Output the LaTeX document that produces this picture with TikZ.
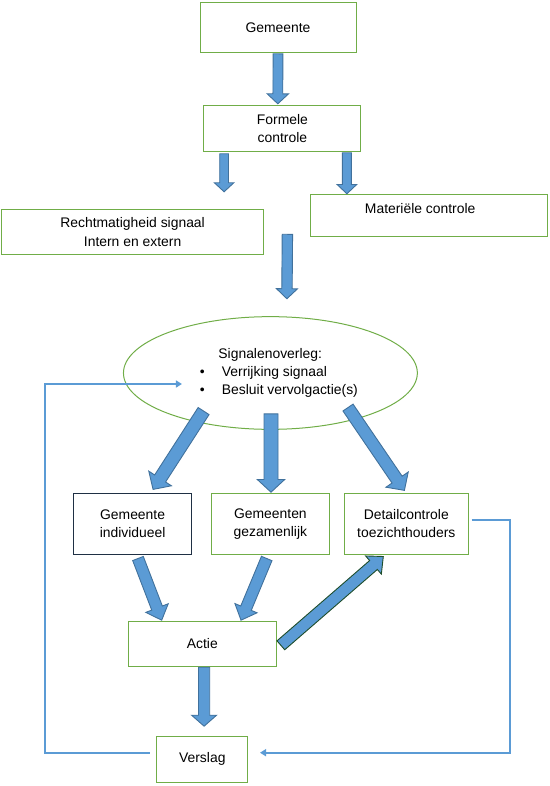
\documentclass[tikz,border=0pt]{standalone}
\usepackage{fontspec}
\setmainfont{Liberation Sans}
\usetikzlibrary{arrows.meta, shapes, positioning, calc}

\definecolor{boxgreen}{HTML}{70AD47}
\definecolor{arrowblue}{HTML}{5B9BD5}
\definecolor{arrowedge}{HTML}{41719C}
\definecolor{navyedge}{HTML}{1F3044}
\definecolor{greenedge}{HTML}{1E4D2B}

\tikzset{
	shaftw/.store in=\shaftw, tipw/.store in=\tipw, tipl/.store in=\tipl,
	shaftw=5pt, tipw=10.5pt, tipl=10pt,
	box/.style={draw=boxgreen, line width=1pt, inner sep=0pt, align=center, minimum height=#1},
	blockarrow/.style={draw=arrowedge, fill=arrowblue, line width=0.9pt, line join=miter,
		to path={let \p1=($(\tikztotarget)-(\tikztostart)$), \n1={veclen(\x1,\y1)}, \n2={atan2(\y1,\x1)} in
			[shift={(\tikztostart)}, rotate=\n2]
			-- (0pt,\shaftw) -- ({\n1-\tipl},\shaftw) -- ({\n1-\tipl},\tipw) -- ({\n1+0pt},0pt)
			-- ({\n1-\tipl},-\tipw) -- ({\n1-\tipl},-\shaftw) -- (0pt,-\shaftw) -- cycle}},
	feedback/.style={draw=arrowblue, line width=1.7pt, -{Triangle[length=6pt, width=7pt]}}
}

\begin{document}
\begin{tikzpicture}[on grid, node distance=100pt, font=\fontsize{13.9}{18.2}\selectfont]
		\useasboundingbox (0pt,0pt) rectangle (549pt,-786pt);
		
		\node[box=49.6pt, minimum width=156pt] (gem) at (278pt,-27.5pt) {Gemeente};
		\node[box=45.6pt, minimum width=157pt, below right=101pt and 4.4pt of gem] (formeel) {Formele\\controle};
		\node[box=44.6pt, minimum width=262.4pt, below left=103.5pt and 149.8pt of formeel] (recht) {Rechtmatigheid signaal\\Intern en extern};
		\node[box=41.6pt, minimum width=237.4pt, text height=18.6pt, text depth=23pt, below right=87pt and 146.4pt of formeel] (mat) {Materiële controle\hspace*{17.2pt}};
		
		\node[ellipse, draw=boxgreen, line width=1pt, minimum width=293.9pt, minimum height=112.7pt, inner sep=0pt, align=left, below left=244.5pt and 12pt of formeel] (sig)
			{\hspace*{35.5pt}Signalenoverleg:\\ \hspace*{17pt}\textbullet\hspace*{17.1pt}Verrijking signaal\\ \hspace*{17pt}\textbullet\hspace*{17.1pt}Besluit vervolgactie(s)};
		
		\node[box=61pt, minimum width=118.6pt, draw=navyedge, below left=150.8pt and 137.8pt of sig] (indiv) {Gemeente\\individueel};
		\node[box=61pt, minimum width=118.2pt, below=150.8pt of sig] (samen) {Gemeenten\\gezamenlijk};
		\node[box=61pt, minimum width=123.5pt, right=135.9pt of samen] (detail) {Detailcontrole\\toezichthouders};
		
		\node[box=45.4pt, minimum width=148.3pt, below left=120.2pt and 68.1pt of samen] (actie) {Actie};
		\node[box=46pt, minimum width=91.2pt, below=115.3pt of actie] (verslag) {Verslag};
		
		\draw[blockarrow, shaftw=4.9pt, tipw=10.7pt, tipl=10pt] ([yshift=-1pt]gem.south) to ([xshift=-4.6pt,yshift=1.4pt]formeel.north);
		\draw[blockarrow, shaftw=4.4pt, tipw=9.7pt, tipl=9pt] ([xshift=-58.3pt,yshift=-2pt]formeel.south) to ([xshift=91.5pt,yshift=17.4pt]recht.north);
		\draw[blockarrow, shaftw=4.5pt, tipw=9.8pt, tipl=9.3pt] ([xshift=64.5pt,yshift=-1pt]formeel.south) to ([xshift=-81.9pt,yshift=0.4pt]mat.north);
		\draw[blockarrow, shaftw=5.2pt, tipw=10.5pt, tipl=10pt] ([xshift=23.1pt,yshift=-2.3pt]recht.east) to ([xshift=16.5pt,yshift=17.4pt]sig.north);
		
		\draw[blockarrow, shaftw=6.5pt, tipw=13.5pt, tipl=13pt] ([xshift=-66.8pt,yshift=18.8pt]sig.south) to ([xshift=20.4pt,yshift=3.3pt]indiv.north);
		\draw[blockarrow, shaftw=7pt, tipw=13.7pt, tipl=12.7pt] ([xshift=0.6pt,yshift=16pt]sig.south) to ([xshift=0.6pt,yshift=0.6pt]samen.north);
		\draw[blockarrow, shaftw=6.1pt, tipw=13.5pt, tipl=13pt] ([xshift=77.6pt,yshift=22.3pt]sig.south) to ([xshift=-1.8pt,yshift=2.3pt]detail.north);
		
		\draw[blockarrow, shaftw=5.7pt, tipw=12pt, tipl=13pt] ([xshift=5.4pt,yshift=-3.7pt]indiv.south) to ([xshift=-40.6pt,yshift=0.6pt]actie.north);
		\draw[blockarrow, shaftw=5.7pt, tipw=12pt, tipl=13pt] ([xshift=-3.7pt,yshift=-3.7pt]samen.south) to ([xshift=38.7pt,yshift=0.6pt]actie.north);
		\draw[blockarrow, draw=greenedge, shaftw=5.9pt, tipw=12pt, tipl=13pt] ([xshift=3.9pt,yshift=-1.3pt]actie.east) to ([xshift=-23pt,yshift=-1.7pt]detail.south);
		\draw[blockarrow, shaftw=5.6pt, tipw=12.5pt, tipl=11pt] ([xshift=1.8pt]actie.south) to ([xshift=1.8pt,yshift=9.6pt]verslag.north);
		
		\draw[feedback] ([xshift=-6.6pt,yshift=6pt]verslag.west) -- ++(-104.5pt,0pt) |- ([xshift=59pt,yshift=-11pt]sig.west);
		\draw[feedback] ([xshift=3pt,yshift=3.8pt]detail.east) -- ++(38.6pt,0pt) |- ([xshift=11.6pt,yshift=6.6pt]verslag.east);
		
\end{tikzpicture}
\end{document}
